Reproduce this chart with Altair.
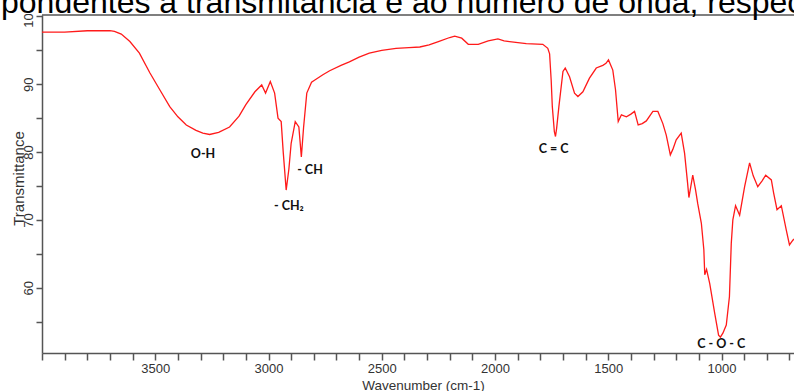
import altair as alt
import pandas as pd

# ---- data ----
wavenumber = [4000, 3900, 3800, 3700, 3680, 3650, 3612, 3570, 3524, 3480, 3436, 3400,
              3363, 3320, 3290, 3260, 3220, 3172, 3130, 3100, 3060, 3030, 3013, 2992,
              2973, 2958, 2944, 2935, 2922, 2910, 2900, 2882, 2866, 2855, 2845, 2831,
              2810, 2797, 2760, 2730, 2680, 2643, 2600, 2555, 2500, 2437, 2380, 2332,
              2291, 2250, 2200, 2178, 2147, 2118, 2074, 2030, 1987, 1960, 1936, 1862,
              1789, 1767, 1759, 1752, 1747, 1738, 1733, 1728, 1718, 1700, 1690, 1671,
              1649, 1634, 1612, 1583, 1553, 1524, 1510, 1499, 1480, 1468, 1456, 1442,
              1420, 1400, 1384, 1368, 1350, 1332, 1303, 1281, 1259, 1244, 1226, 1215,
              1200, 1178, 1163, 1150, 1144, 1127, 1115, 1105, 1089, 1078, 1074, 1066,
              1052, 1030, 1013, 1005, 994, 979, 965, 957, 950, 938, 920, 898,
              876, 860, 840, 820, 805, 780, 770, 755, 736, 714, 700, 685, 680]
transmittance = [97.7, 97.7, 97.9, 97.9, 97.8, 97.4, 96.3, 94.6, 91.7, 89.2, 86.7, 85.2,
                 84.0, 83.2, 82.8, 82.6, 82.9, 83.7, 85.3, 87.0, 88.9, 89.9, 88.7, 90.4,
                 88.7, 85.0, 84.5, 80.0, 74.4, 77.5, 81.3, 84.5, 83.7, 79.3, 83.7, 88.7,
                 90.3, 90.6, 91.4, 92.0, 92.8, 93.3, 94.0, 94.6, 95.0, 95.3, 95.4, 95.5,
                 95.8, 96.3, 96.9, 97.1, 96.8, 95.9, 95.9, 96.4, 96.7, 96.4, 96.3, 96.0,
                 95.9, 95.3, 94.5, 90.6, 86.7, 83.0, 82.3, 83.5, 86.7, 91.9, 92.4, 91.1,
                 88.7, 88.2, 88.9, 90.9, 92.4, 92.8, 93.1, 93.6, 92.1, 89.2, 84.5, 85.5,
                 85.2, 85.6, 86.0, 84.0, 84.2, 84.6, 86.0, 86.0, 84.2, 82.5, 79.6, 80.4,
                 81.8, 82.8, 79.8, 75.5, 73.3, 76.6, 74.5, 72.4, 69.5, 65.6, 61.9, 62.7,
                 60.6, 56.2, 53.0, 52.7, 53.3, 54.5, 58.7, 66.5, 70.0, 72.1, 70.7, 74.9,
                 78.4, 76.5, 74.9, 75.8, 76.6, 75.9, 74.0, 71.5, 72.1, 68.5, 66.3, 67.0, 67.2]

peak_labels = ["O-H", "- CH", "- CH\u2082", "C = C", "C - O - C"]
peak_wn = [3289, 2817, 2910, 1741, 1001]
peak_t = [79.7, 77.4, 72.05, 80.46, 51.65]

x_ticks = list(range(700, 4001, 100))
y_ticks = [55, 60, 65, 70, 75, 80, 85, 90, 95, 100]

caption = "pondentes à transmitância e ao número de onda, respec"

W, H = 752, 338
AXIS_GRAY = "#555555"
TEXT_GRAY = "#333333"

df = pd.DataFrame({"wn": wavenumber, "t": transmittance})
peaks = pd.DataFrame({"label": peak_labels, "wn": peak_wn, "t": peak_t})
one = pd.DataFrame({"a": [0]})

xscale = alt.Scale(domain=[680, 4000], reverse=True, nice=False, zero=False)
yscale = alt.Scale(domain=[50.37, 100.22], nice=False, zero=False)

xaxis = alt.Axis(
    values=x_ticks,
    labelExpr="(datum.value % 500 == 0 && datum.value < 4000) ? format(datum.value, 'd') : ''",
    tickSize=7, tickColor=AXIS_GRAY, tickWidth=1.5,
    domainColor=AXIS_GRAY, domainWidth=1.5,
    labelFont="Liberation Sans", labelFontSize=13, labelColor=TEXT_GRAY,
    labelPadding=2, labelFlush=False, labelOverlap=False,
    grid=False,
    title="Wavenumber (cm-1)", titleFont="Liberation Sans", titleFontSize=13.5,
    titleFontWeight="normal", titleColor=TEXT_GRAY,
    titleX=381, titleY=32, titleAlign="center", titleBaseline="middle",
)
yaxis = alt.Axis(
    values=y_ticks,
    labelExpr="datum.value % 10 == 0 ? format(datum.value, 'd') : ''",
    labelAngle=270, labelAlign="center", labelBaseline="bottom",
    tickSize=6, tickColor=AXIS_GRAY, tickWidth=1.5,
    domainColor=AXIS_GRAY, domainWidth=1.5,
    labelFont="Liberation Sans", labelFontSize=13, labelColor=TEXT_GRAY,
    labelPadding=1, labelFlush=False, labelOverlap=False,
    grid=False,
    title="Transmittance", titleFont="Liberation Sans", titleFontSize=15,
    titleFontWeight="normal", titleColor=TEXT_GRAY, titleAngle=270,
    titleX=-24, titleY=163, titleAlign="center", titleBaseline="middle",
)

line = alt.Chart(df).mark_line(color="#ff1a1a", strokeWidth=1.3, clip=True).encode(
    x=alt.X("wn:Q", scale=xscale, axis=xaxis),
    y=alt.Y("t:Q", scale=yscale, axis=yaxis),
    order="wn:Q",
)

labels = alt.Chart(peaks).mark_text(
    font="Lato", fontWeight="bold", fontSize=12.5, color="#111111",
    align="center", baseline="middle",
).encode(
    x=alt.X("wn:Q", scale=xscale, axis=xaxis),
    y=alt.Y("t:Q", scale=yscale, axis=yaxis),
    text="label:N",
)

top_rule = alt.Chart(one).mark_rule(color=AXIS_GRAY, strokeWidth=1.5).encode(
    x=alt.value(0), x2=alt.value(W), y=alt.value(0)
)

cover = alt.Chart(one).mark_rect(color="white").encode(
    x=alt.value(-42), x2=alt.value(W), y=alt.value(-15), y2=alt.value(-1)
)

cap = alt.Chart(one).mark_text(
    text=caption, font="Liberation Sans", fontSize=32, color="black",
    align="left", baseline="alphabetic",
).encode(x=alt.value(-41), y=alt.value(-2))

chart = alt.layer(line, labels, top_rule, cover, cap).properties(
    width=W, height=H,
    autosize=alt.AutoSizeParams(type="none"),
    padding={"left": 42, "top": 15, "right": 0, "bottom": 38},
    background="white",
).configure_view(stroke=None).configure_axis(labelOverlap=False)

chart.save("out.html", embed_options={"renderer": "svg", "actions": False})
